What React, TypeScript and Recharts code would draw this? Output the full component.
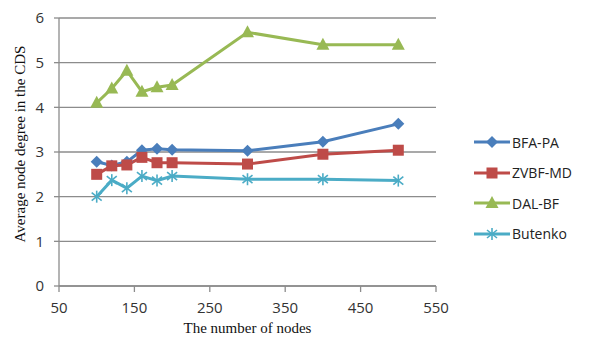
import { CartesianGrid, Line, LineChart, XAxis, YAxis } from "recharts";

const nodes = [100, 120, 140, 160, 180, 200, 300, 400, 500];
const bfaPa = [2.78, 2.7, 2.78, 3.04, 3.07, 3.05, 3.03, 3.23, 3.63];
const zvbfMd = [2.5, 2.69, 2.71, 2.88, 2.76, 2.76, 2.73, 2.95, 3.04];
const dalBf = [4.1, 4.42, 4.82, 4.35, 4.45, 4.5, 5.68, 5.4, 5.4];
const butenko = [2.0, 2.37, 2.19, 2.46, 2.36, 2.46, 2.39, 2.39, 2.36];

const xTicks = [50, 150, 250, 350, 450, 550];
const yTicks = [0, 1, 2, 3, 4, 5, 6];

const rows = nodes.map((n, i) => ({
  n,
  bfaPa: bfaPa[i],
  zvbfMd: zvbfMd[i],
  dalBf: dalBf[i],
  butenko: butenko[i],
}));

const BLUE = "#4a7ebb";
const RED = "#be4b48";
const GREEN = "#98b954";
const CYAN = "#4bacc6";
const AXIS = "#8c8c8c";
const TICK_FONT = "'Open Sans', sans-serif";
const SERIF = "'Liberation Serif', 'Times New Roman', serif";

type Marker = "diamond" | "square" | "triangle" | "asterisk";

function markerShape(kind: Marker, cx: number, cy: number, color: string, key?: string) {
  switch (kind) {
    case "diamond":
      return (
        <path key={key} d={`M${cx},${cy - 6}L${cx + 6},${cy}L${cx},${cy + 6}L${cx - 6},${cy}Z`} fill={color} />
      );
    case "square":
      return <rect key={key} x={cx - 5.5} y={cy - 5.5} width={11} height={11} fill={color} />;
    case "triangle":
      return (
        <path key={key} d={`M${cx},${cy - 7}L${cx + 6.5},${cy + 5}L${cx - 6.5},${cy + 5}Z`} fill={color} />
      );
    case "asterisk":
      return (
        <g key={key} stroke={color} strokeWidth={1.6}>
          <line x1={cx} y1={cy - 6} x2={cx} y2={cy + 6} />
          <line x1={cx - 5} y1={cy - 4} x2={cx + 5} y2={cy + 4} />
          <line x1={cx - 5} y1={cy + 4} x2={cx + 5} y2={cy - 4} />
        </g>
      );
  }
}

const dotFor = (kind: Marker, color: string) => (props: any) => {
  const { cx, cy, index } = props;
  if (cx == null || cy == null) return <g key={`e-${index}`} />;
  return markerShape(kind, cx, cy, color, `${kind}-${index}`);
};

const series: { key: string; name: string; color: string; marker: Marker }[] = [
  { key: "bfaPa", name: "BFA-PA", color: BLUE, marker: "diamond" },
  { key: "zvbfMd", name: "ZVBF-MD", color: RED, marker: "square" },
  { key: "dalBf", name: "DAL-BF", color: GREEN, marker: "triangle" },
  { key: "butenko", name: "Butenko", color: CYAN, marker: "asterisk" },
];

function LegendBox() {
  return (
    <div style={{ position: "absolute", left: 474, top: 127 }}>
      {series.map((s) => (
        <div key={s.key} style={{ display: "flex", alignItems: "center", height: 30.5 }}>
          <svg width={38} height={16}>
            <line x1={0} y1={8} x2={36} y2={8} stroke={s.color} strokeWidth={3} />
            {markerShape(s.marker, 18, 8, s.color)}
          </svg>
          <span style={{ fontFamily: TICK_FONT, fontSize: 14, color: "#222", marginLeft: 0 }}>{s.name}</span>
        </div>
      ))}
    </div>
  );
}

export default function App() {
  return (
    <div style={{ position: "absolute", left: 0, top: 0, width: 590, height: 342, background: "#fff" }}>
      <LineChart width={590} height={342} data={rows} margin={{ top: 18, right: 154, bottom: 0, left: 0 }}>
        <CartesianGrid vertical={false} stroke={AXIS} strokeWidth={1.3} />
        <XAxis
          dataKey="n"
          type="number"
          domain={[50, 550]}
          ticks={xTicks}
          height={56}
          stroke={AXIS}
          strokeWidth={1.3}
          tickSize={6}
          tickMargin={10}
          tick={{ fill: "#333", fontSize: 15, fontFamily: TICK_FONT }}
          label={{
            value: "The number of nodes",
            position: "insideBottom",
            offset: 9,
            fill: "#111",
            fontSize: 15,
            fontFamily: SERIF,
          }}
        />
        <YAxis
          type="number"
          domain={[0, 6]}
          ticks={yTicks}
          width={59}
          stroke={AXIS}
          strokeWidth={1.3}
          tickSize={5}
          tickMargin={10}
          tick={{ fill: "#333", fontSize: 15, fontFamily: TICK_FONT }}
          label={{
            value: "Average node degree in the CDS",
            angle: -90,
            position: "insideLeft",
            offset: 20,
            dy: -8,
            style: { textAnchor: "middle" },
            fill: "#111",
            fontSize: 15,
            fontFamily: SERIF,
          }}
        />
        {series.map((s) => (
          <Line
            key={s.key}
            dataKey={s.key}
            name={s.name}
            stroke={s.color}
            strokeWidth={3}
            dot={dotFor(s.marker, s.color)}
            activeDot={false}
            isAnimationActive={false}
          />
        ))}
      </LineChart>
      <LegendBox />
    </div>
  );
}
